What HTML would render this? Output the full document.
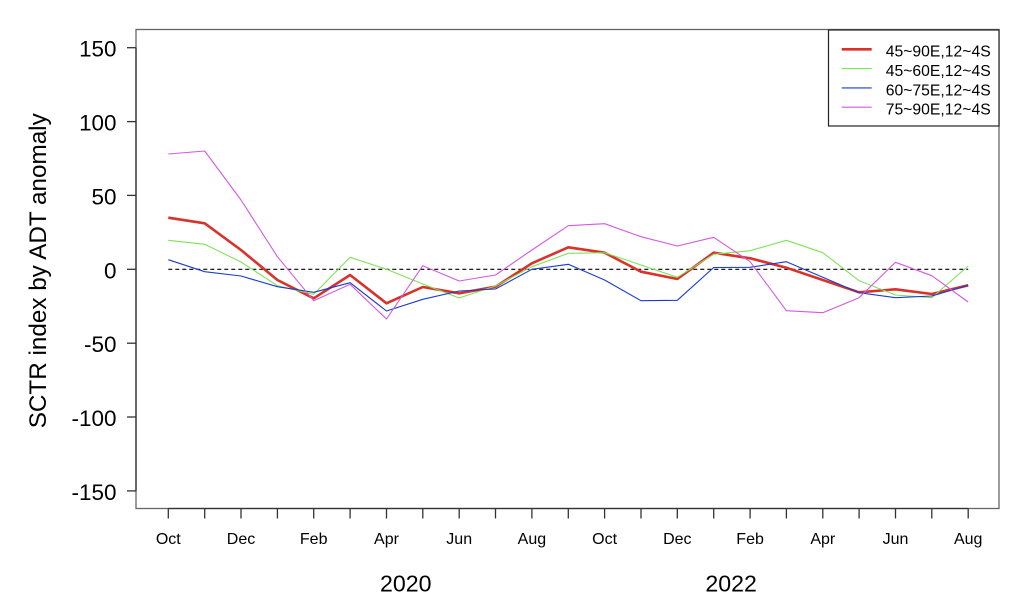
<!DOCTYPE html>
<html>
<head>
<meta charset="utf-8">
<style>
html,body{margin:0;padding:0;background:#fff;}
svg{display:block;}
text{font-family:"Liberation Sans",Arial,sans-serif;fill:#000;}
</style>
</head>
<body>
<svg width="1022" height="601" viewBox="0 0 1022 601" xmlns="http://www.w3.org/2000/svg">
<rect x="0" y="0" width="1022" height="601" fill="#fff"/>
<!-- plot box -->
<rect x="136" y="29.5" width="863" height="479" fill="none" stroke="#666" stroke-width="1.3"/>
<!-- y axis -->
<g stroke="#333" stroke-width="1.3">
<line x1="136" y1="47.7" x2="136" y2="490.9"/>
<line x1="127" y1="47.7" x2="136" y2="47.7"/>
<line x1="127" y1="121.6" x2="136" y2="121.6"/>
<line x1="127" y1="195.4" x2="136" y2="195.4"/>
<line x1="127" y1="269.3" x2="136" y2="269.3"/>
<line x1="127" y1="343.2" x2="136" y2="343.2"/>
<line x1="127" y1="417" x2="136" y2="417"/>
<line x1="127" y1="490.9" x2="136" y2="490.9"/>
</g>
<g font-size="22" text-anchor="end">
<text x="116.5" y="56.7" textLength="37.4" lengthAdjust="spacingAndGlyphs">150</text>
<text x="116.5" y="130.6" textLength="37.4" lengthAdjust="spacingAndGlyphs">100</text>
<text x="116.5" y="204.4" textLength="25" lengthAdjust="spacingAndGlyphs">50</text>
<text x="116.5" y="278.3" textLength="12.5" lengthAdjust="spacingAndGlyphs">0</text>
<text x="116.5" y="352.2" textLength="32.5" lengthAdjust="spacingAndGlyphs">-50</text>
<text x="116.5" y="426" textLength="45" lengthAdjust="spacingAndGlyphs">-100</text>
<text x="116.5" y="499.9" textLength="45" lengthAdjust="spacingAndGlyphs">-150</text>
</g>
<text transform="translate(46,270.8) rotate(-90)" font-size="24" text-anchor="middle" textLength="315" lengthAdjust="spacingAndGlyphs">SCTR index by ADT anomaly</text>
<!-- x axis -->
<g stroke="#333" stroke-width="1.3">
<line x1="168.3" y1="508.5" x2="968.2" y2="508.5"/>
<line x1="168.3" y1="508.5" x2="168.3" y2="518.5"/>
<line x1="204.7" y1="508.5" x2="204.7" y2="518.5"/>
<line x1="241.0" y1="508.5" x2="241.0" y2="518.5"/>
<line x1="277.4" y1="508.5" x2="277.4" y2="518.5"/>
<line x1="313.7" y1="508.5" x2="313.7" y2="518.5"/>
<line x1="350.1" y1="508.5" x2="350.1" y2="518.5"/>
<line x1="386.5" y1="508.5" x2="386.5" y2="518.5"/>
<line x1="422.8" y1="508.5" x2="422.8" y2="518.5"/>
<line x1="459.2" y1="508.5" x2="459.2" y2="518.5"/>
<line x1="495.5" y1="508.5" x2="495.5" y2="518.5"/>
<line x1="531.9" y1="508.5" x2="531.9" y2="518.5"/>
<line x1="568.3" y1="508.5" x2="568.3" y2="518.5"/>
<line x1="604.6" y1="508.5" x2="604.6" y2="518.5"/>
<line x1="641.0" y1="508.5" x2="641.0" y2="518.5"/>
<line x1="677.3" y1="508.5" x2="677.3" y2="518.5"/>
<line x1="713.7" y1="508.5" x2="713.7" y2="518.5"/>
<line x1="750.1" y1="508.5" x2="750.1" y2="518.5"/>
<line x1="786.4" y1="508.5" x2="786.4" y2="518.5"/>
<line x1="822.8" y1="508.5" x2="822.8" y2="518.5"/>
<line x1="859.1" y1="508.5" x2="859.1" y2="518.5"/>
<line x1="895.5" y1="508.5" x2="895.5" y2="518.5"/>
<line x1="931.8" y1="508.5" x2="931.8" y2="518.5"/>
<line x1="968.2" y1="508.5" x2="968.2" y2="518.5"/>
</g>
<g font-size="16" text-anchor="middle">
<text x="168.3" y="544">Oct</text>
<text x="241.0" y="544">Dec</text>
<text x="313.7" y="544">Feb</text>
<text x="386.5" y="544">Apr</text>
<text x="459.2" y="544">Jun</text>
<text x="531.9" y="544">Aug</text>
<text x="604.6" y="544">Oct</text>
<text x="677.3" y="544">Dec</text>
<text x="750.1" y="544">Feb</text>
<text x="822.8" y="544">Apr</text>
<text x="895.5" y="544">Jun</text>
<text x="968.2" y="544">Aug</text>
</g>
<g font-size="23" text-anchor="middle">
<text x="405.8" y="591.5" textLength="51.5" lengthAdjust="spacingAndGlyphs">2020</text>
<text x="731.2" y="591.5" textLength="51.5" lengthAdjust="spacingAndGlyphs">2022</text>
</g>
<!-- zero line -->
<line x1="168.3" y1="269.3" x2="968.2" y2="269.3" stroke="#000" stroke-width="1.2" stroke-dasharray="4,3"/>
<!-- series -->
<g fill="none" stroke-linejoin="round">
<polyline stroke="#d8322a" stroke-width="2.6" points="168.3,217.7 204.7,223.3 241.0,250 277.4,280 313.7,298.3 350.1,275 386.5,303.3 422.8,287 459.2,293.3 495.5,286.7 531.9,263.3 568.3,247.3 604.6,252.7 641.0,271.7 677.3,279 713.7,252.7 750.1,258.3 786.4,267.7 822.8,280 859.1,292.3 895.5,289.3 931.8,294 968.2,285.3"/>
<polyline stroke="#7ee35a" stroke-width="1.1" points="168.3,240.3 204.7,244.3 241.0,262 277.4,285.7 313.7,294.3 350.1,257.3 386.5,269.3 422.8,284 459.2,298 495.5,286 531.9,266.7 568.3,253.3 604.6,252.7 641.0,265 677.3,277.3 713.7,254.3 750.1,250.7 786.4,240.3 822.8,252.7 859.1,280.7 895.5,295 931.8,297.7 968.2,266"/>
<polyline stroke="#1a3ccc" stroke-width="1.1" points="168.3,259.7 204.7,271.7 241.0,276 277.4,286.7 313.7,292.3 350.1,282.7 386.5,311 422.8,299.3 459.2,291 495.5,289 531.9,269.3 568.3,264.3 604.6,280 641.0,300.7 677.3,300.3 713.7,267.5 750.1,267.3 786.4,261.7 822.8,277.3 859.1,292.7 895.5,297.7 931.8,296 968.2,285.3"/>
<polyline stroke="#d35ae0" stroke-width="1.1" points="168.3,154 204.7,151 241.0,200 277.4,256.7 313.7,300.7 350.1,284.3 386.5,319 422.8,265.7 459.2,281 495.5,275 531.9,250 568.3,225.7 604.6,223.7 641.0,236.7 677.3,246 713.7,237.3 750.1,261.7 786.4,310.7 822.8,312.7 859.1,297.7 895.5,262.3 931.8,275.7 968.2,302"/>
</g>
<!-- legend -->
<rect x="828.5" y="30" width="170.5" height="96" fill="#fff" stroke="#222" stroke-width="1.2"/>
<line x1="841.7" y1="49.3" x2="871.7" y2="49.3" stroke="#d8322a" stroke-width="2.6"/>
<line x1="841.7" y1="68.6" x2="871.7" y2="68.6" stroke="#7ee35a" stroke-width="1.1"/>
<line x1="841.7" y1="87.9" x2="871.7" y2="87.9" stroke="#1a3ccc" stroke-width="1.1"/>
<line x1="841.7" y1="107.2" x2="871.7" y2="107.2" stroke="#d35ae0" stroke-width="1.1"/>
<g font-size="16">
<text x="885.7" y="56.7" textLength="105" lengthAdjust="spacingAndGlyphs">45~90E,12~4S</text>
<text x="885.7" y="76" textLength="105" lengthAdjust="spacingAndGlyphs">45~60E,12~4S</text>
<text x="885.7" y="95.3" textLength="105" lengthAdjust="spacingAndGlyphs">60~75E,12~4S</text>
<text x="885.7" y="114.6" textLength="105" lengthAdjust="spacingAndGlyphs">75~90E,12~4S</text>
</g>
</svg>
</body>
</html>
